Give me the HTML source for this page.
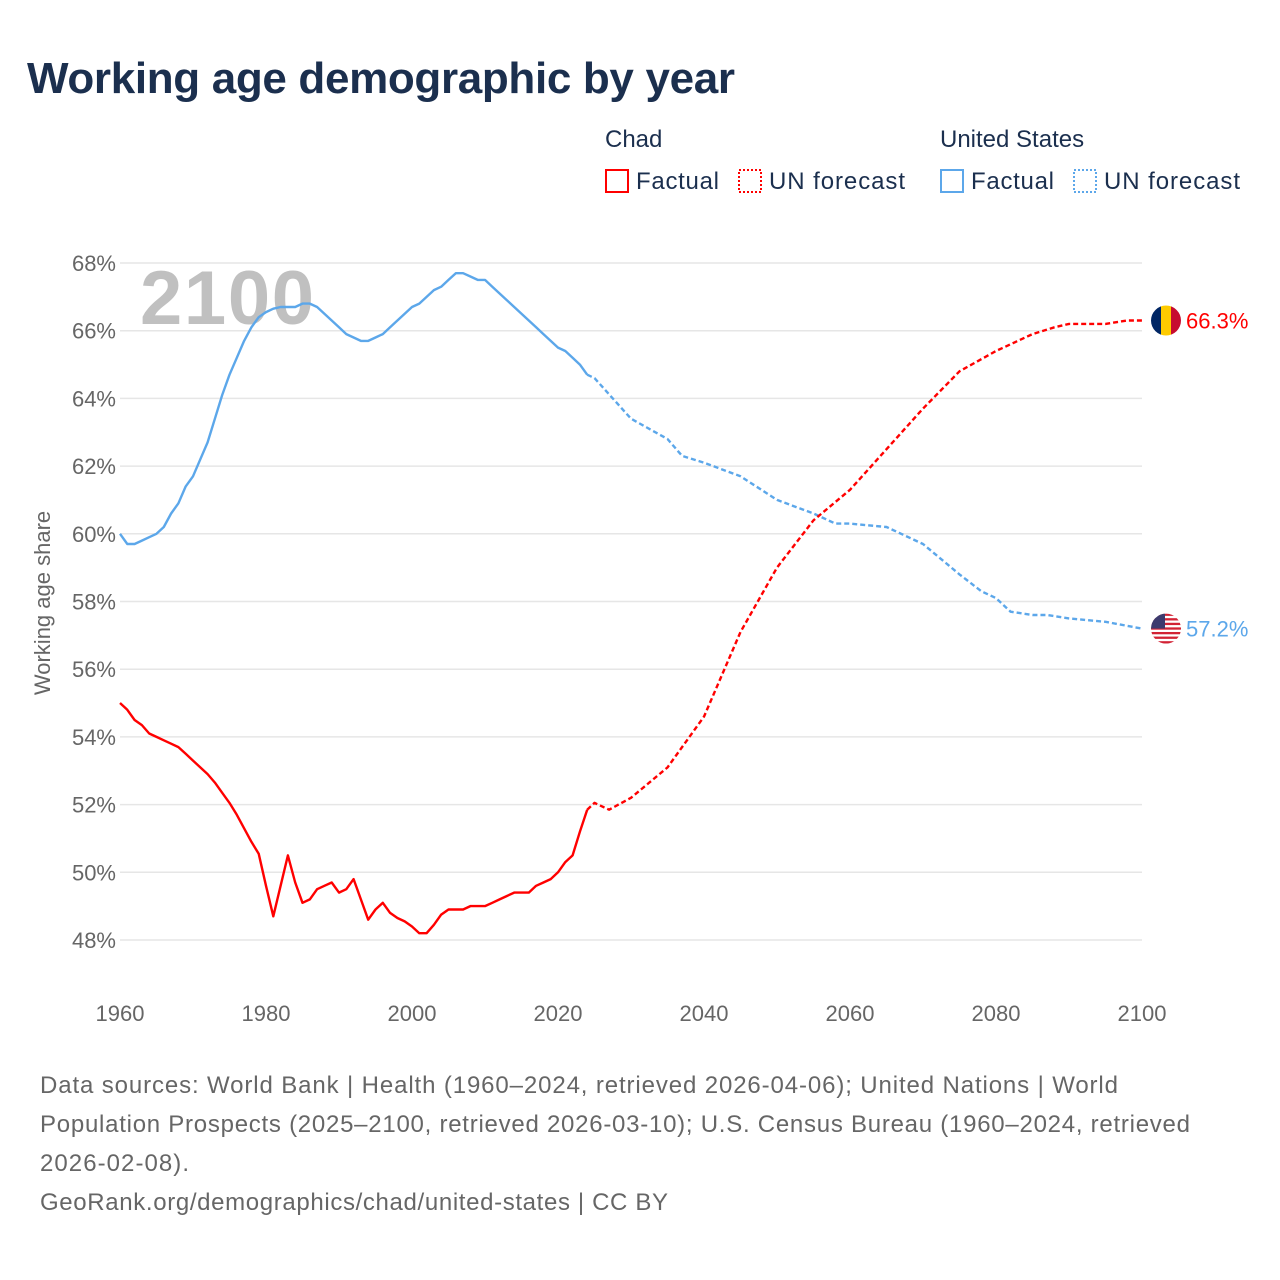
<!DOCTYPE html>
<html><head><meta charset="utf-8"><style>
body{margin:0;background:#fff;font-family:"Liberation Sans",sans-serif}
#wrap{position:relative;width:1280px;height:1280px;overflow:hidden}
</style></head><body>
<div id="wrap">
<svg id="svg" width="1280" height="1280" xmlns="http://www.w3.org/2000/svg">
<text x="27" y="93" font-size="44" font-weight="bold" fill="#1b2f4e" textLength="708">Working age demographic by year</text>
<g font-size="24" fill="#1b2f4e">
<text x="605" y="147">Chad</text>
<text x="940" y="147">United States</text>
<g><rect x="606" y="170" width="22" height="22" fill="none" stroke="#f00" stroke-width="2"/><text x="636" y="189" textLength="83">Factual</text></g>
<g><rect x="739" y="170" width="22" height="22" fill="none" stroke="#f00" stroke-width="2" stroke-dasharray="2,2"/><text x="769" y="189" textLength="136">UN forecast</text></g>
<g><rect x="941" y="170" width="22" height="22" fill="none" stroke="#5ca7ea" stroke-width="2"/><text x="971" y="189" textLength="83">Factual</text></g>
<g><rect x="1074" y="170" width="22" height="22" fill="none" stroke="#5ca7ea" stroke-width="2" stroke-dasharray="2,2"/><text x="1104" y="189" textLength="136">UN forecast</text></g>
</g>
<text x="140" y="324" font-size="76" font-weight="bold" fill="#c0c0c0" textLength="174">2100</text>
<g id="grid"></g><g id="series"></g>
<text transform="translate(50,603) rotate(-90)" text-anchor="middle" font-size="22" fill="#666">Working age share</text>
<g font-size="24" fill="#666">
<text x="40" y="1093" textLength="1078">Data sources: World Bank | Health (1960–2024, retrieved 2026-04-06); United Nations | World</text>
<text x="40" y="1132" textLength="1150">Population Prospects (2025–2100, retrieved 2026-03-10); U.S. Census Bureau (1960–2024, retrieved</text>
<text x="40" y="1171" textLength="149">2026-02-08).</text>
<text x="40" y="1210" textLength="628">GeoRank.org/demographics/chad/united-states | CC BY</text>
</g>
</svg>
</div>
<script>
const yTicks=[48,50,52,54,56,58,60,62,64,66,68];
const xTicks=[1960,1980,2000,2020,2040,2060,2080,2100];
const chadYears=[1960,1961,1962,1963,1964,1965,1966,1967,1968,1969,1970,1971,1972,1973,1974,1975,1976,1977,1978,1979,1980,1981,1982,1983,1984,1985,1986,1987,1988,1989,1990,1991,1992,1993,1994,1995,1996,1997,1998,1999,2000,2001,2002,2003,2004,2005,2006,2007,2008,2009,2010,2011,2012,2013,2014,2015,2016,2017,2018,2019,2020,2021,2022,2023,2024];
const chadVals=[55.0,54.8,54.5,54.35,54.1,54.0,53.9,53.8,53.7,53.5,53.3,53.1,52.9,52.65,52.35,52.05,51.7,51.3,50.9,50.55,49.6,48.7,49.6,50.5,49.7,49.1,49.2,49.5,49.6,49.7,49.4,49.5,49.8,49.2,48.6,48.9,49.1,48.8,48.65,48.55,48.4,48.2,48.2,48.45,48.75,48.9,48.9,48.9,49.0,49.0,49.0,49.1,49.2,49.3,49.4,49.4,49.4,49.6,49.7,49.8,50.0,50.3,50.5,51.2,51.85];
const chadFcYears=[2024,2025,2027,2030,2035,2040,2045,2050,2055,2060,2065,2070,2075,2080,2085,2088,2090,2095,2098,2100];
const chadFcVals=[51.85,52.05,51.85,52.2,53.1,54.6,57.1,59.0,60.4,61.3,62.5,63.7,64.8,65.4,65.9,66.1,66.2,66.2,66.3,66.3];
const usYears=[1960,1961,1962,1963,1964,1965,1966,1967,1968,1969,1970,1971,1972,1973,1974,1975,1976,1977,1978,1979,1980,1981,1982,1983,1984,1985,1986,1987,1988,1989,1990,1991,1992,1993,1994,1995,1996,1997,1998,1999,2000,2001,2002,2003,2004,2005,2006,2007,2008,2009,2010,2011,2012,2013,2014,2015,2016,2017,2018,2019,2020,2021,2022,2023,2024];
const usVals=[60.0,59.7,59.7,59.8,59.9,60.0,60.2,60.6,60.9,61.4,61.7,62.2,62.7,63.4,64.1,64.7,65.2,65.7,66.1,66.4,66.55,66.65,66.7,66.7,66.7,66.8,66.8,66.7,66.5,66.3,66.1,65.9,65.8,65.7,65.7,65.8,65.9,66.1,66.3,66.5,66.7,66.8,67.0,67.2,67.3,67.5,67.7,67.7,67.6,67.5,67.5,67.3,67.1,66.9,66.7,66.5,66.3,66.1,65.9,65.7,65.5,65.4,65.2,65.0,64.7];
const usFcYears=[2024,2025,2030,2035,2037,2040,2045,2050,2055,2058,2060,2065,2070,2075,2078,2080,2082,2085,2087,2090,2095,2100];
const usFcVals=[64.7,64.6,63.4,62.8,62.3,62.1,61.7,61.0,60.6,60.3,60.3,60.2,59.7,58.8,58.3,58.1,57.7,57.6,57.6,57.5,57.4,57.2];
const NS="http://www.w3.org/2000/svg";
const X=yr=>120+(yr-1960)*(1142-120)/140;
const Y=v=>263+(68-v)*(940-263)/20;
function mk(tag,attrs,parent){const e=document.createElementNS(NS,tag);for(const k in attrs)e.setAttribute(k,attrs[k]);parent.appendChild(e);return e;}
const grid=document.getElementById('grid'),ser=document.getElementById('series');
yTicks.forEach(t=>{
 const l=mk('line',{x1:120,x2:1142,y1:Y(t),y2:Y(t),stroke:'#e6e6e6','stroke-width':1.5},grid);
 
 
 const tx=mk('text',{x:116,y:Y(t)+8,'text-anchor':'end','font-size':22,fill:'#666'},grid);tx.textContent=t+'%';
 
 
});
xTicks.forEach(t=>{
 const tx=mk('text',{x:X(t),y:1021,'text-anchor':'middle','font-size':22,fill:'#666'},grid);tx.textContent=t;
 
 
});
function line(xs,vs,color,dash,name){
 const d=xs.map((x,i)=>(i?'L':'M')+X(x).toFixed(1)+','+Y(vs[i]).toFixed(1)).join('');
 const p=mk('path',{d:d,fill:'none',stroke:color,'stroke-width':2.4,'stroke-linejoin':'round'},ser);
 if(dash)p.setAttribute('stroke-dasharray','5,3');
 
 
}
line(usYears,usVals,'#5ca7ea',false,'us-factual-line');
line(usFcYears,usFcVals,'#5ca7ea',true,'us-forecast-line');
line(chadYears,chadVals,'#f00',false,'chad-factual-line');
line(chadFcYears,chadFcVals,'#f00',true,'chad-forecast-line');
const cy=Y(chadFcVals[chadFcVals.length-1]),uy=Y(usFcVals[usFcVals.length-1]);
const fc=mk('g',{},ser);


const cp1=mk('clipPath',{id:'c1'},fc);mk('circle',{cx:1166,cy:cy,r:15},cp1);
const g1=mk('g',{'clip-path':'url(#c1)'},fc);
mk('rect',{x:1151,y:cy-15,width:10,height:30,fill:'#002664'},g1);
mk('rect',{x:1161,y:cy-15,width:10,height:30,fill:'#fecb00'},g1);
mk('rect',{x:1171,y:cy-15,width:10,height:30,fill:'#c60c30'},g1);
const fu=mk('g',{},ser);


const cp=mk('clipPath',{id:'c2'},fu);mk('circle',{cx:1166,cy:uy,r:15},cp);
const g2=mk('g',{'clip-path':'url(#c2)'},fu);
mk('rect',{x:1151,y:uy-15,width:30,height:30,fill:'#fff'},g2);
for(let i=0;i<7;i++)mk('rect',{x:1151,y:uy-15+i*4.6,width:30,height:2.3,fill:'#d22234'},g2);
mk('rect',{x:1151,y:uy-15,width:14,height:15,fill:'#3c3b6e'},g2);
const t1=mk('text',{x:1186,y:cy+8,'font-size':22,fill:'#f00'},ser);t1.textContent='66.3%';


const t2=mk('text',{x:1186,y:uy+8,'font-size':22,fill:'#5ca7ea'},ser);t2.textContent='57.2%';


</script>
</body></html>
